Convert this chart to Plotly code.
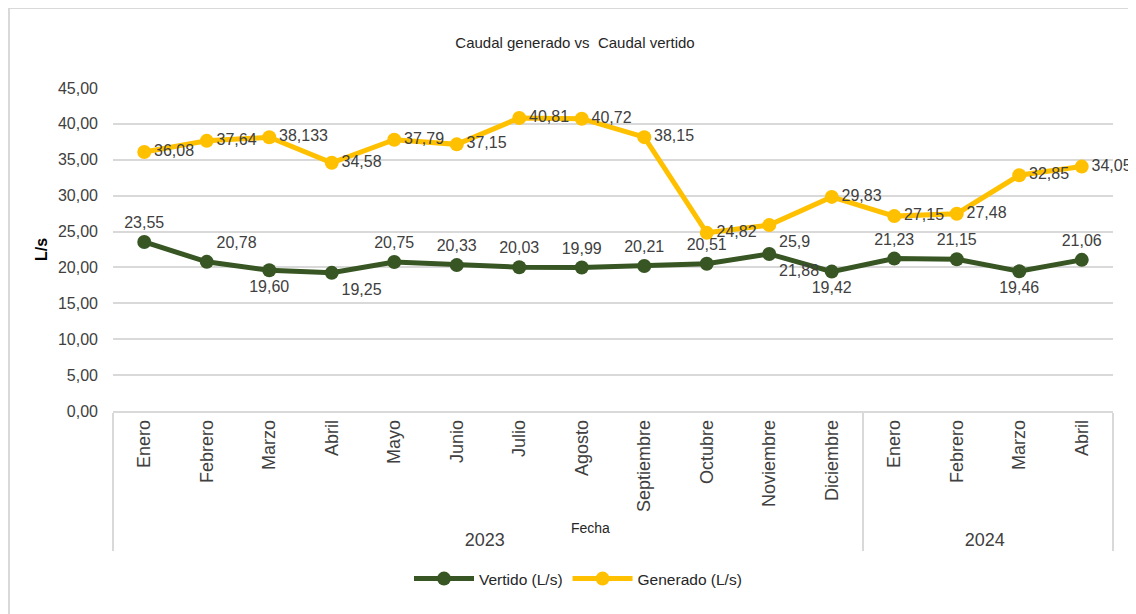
import plotly.graph_objects as go

years = ["2023"] * 12 + ["2024"] * 4
months = ["Enero", "Febrero", "Marzo", "Abril", "Mayo", "Junio", "Julio", "Agosto",
          "Septiembre", "Octubre", "Noviembre", "Diciembre",
          "Enero", "Febrero", "Marzo", "Abril"]
vertido = [23.55, 20.78, 19.60, 19.25, 20.75, 20.33, 20.03, 19.99,
           20.21, 20.51, 21.88, 19.42, 21.23, 21.15, 19.46, 21.06]
generado = [36.08, 37.64, 38.133, 34.58, 37.79, 37.15, 40.81, 40.72,
            38.15, 24.82, 25.9, 29.83, 27.15, 27.48, 32.85, 34.05]

vertido_text = [f"{v:.2f}".replace(".", ",") for v in vertido]
generado_text = [repr(v).replace(".", ",") for v in generado]

vertido_pos = ["top center", "top right", "bottom center", "bottom right", "top center",
               "top center", "top center", "top center", "top center", "top center",
               "bottom right", "bottom center", "top center", "top center",
               "bottom center", "top center"]
generado_pos = ["middle right"] * 10 + ["bottom right"] + ["middle right"] * 5

FONT = "Liberation Sans, Arial, sans-serif"
GREEN = "#375623"
YELLOW = "#FFC000"
TXT = "#404040"

# page has an 8px body margin; figure occupies page (8,8)-(1136,614)
OFF = 8
W, H = 1136 - OFF, 614 - OFF
L, R, T, B = 113, 1113, 88, 411  # plot area in page pixels
def px(xp):
    return (xp - L) / (R - L)
def py(yp):
    return (B - yp) / (B - T)

x = [years, months]

fig = go.Figure()
fig.add_trace(go.Scatter(
    x=x, y=vertido, name="Vertido (L/s)", mode="lines+markers+text",
    line=dict(color=GREEN, width=5), marker=dict(color=GREEN, size=14),
    text=vertido_text, textposition=vertido_pos,
    textfont=dict(family=FONT, size=16, color=TXT), cliponaxis=False))
fig.add_trace(go.Scatter(
    x=x, y=generado, name="Generado (L/s)", mode="lines+markers+text",
    line=dict(color=YELLOW, width=5), marker=dict(color=YELLOW, size=14),
    text=generado_text, textposition=generado_pos,
    textfont=dict(family=FONT, size=16, color=TXT), cliponaxis=False))

fig.update_layout(
    width=W, height=H,
    margin=dict(l=L - OFF, r=1136 - R, t=T - OFF, b=614 - B, autoexpand=False),
    paper_bgcolor="white", plot_bgcolor="white",
    separators=",.",
    font=dict(family=FONT, size=16, color=TXT),
    title=dict(text="Caudal generado vs  Caudal vertido", x=(575 - OFF) / W, xanchor="center",
               y=1 - (43 - OFF) / H, yanchor="middle",
               font=dict(family=FONT, size=15, color="#262626")),
    showlegend=True,
    legend=dict(orientation="h", x=px(578), xanchor="center", y=py(579), yanchor="middle",
                font=dict(family=FONT, size=15.5, color="#262626"),
                itemwidth=60, traceorder="normal"),
)
fig.update_yaxes(range=[0, 45], dtick=5, tickformat=".2f", automargin=False,
                 showgrid=True, gridcolor="#d9d9d9", gridwidth=1.5,
                 zeroline=False, showline=False, ticks="", ticklabelstandoff=14,
                 tickfont=dict(family=FONT, size=16, color=TXT),
                 title=dict(text="<b>L/s</b>", standoff=6,
                            font=dict(family=FONT, size=16, color="#000000")))
fig.update_xaxes(type="multicategory", tickangle=-90, automargin=False,
                 range=[-0.5, len(months) - 0.5], autorange=False,
                 showline=True, linecolor="#d9d9d9", linewidth=1.5,
                 showgrid=False, ticks="",
                 showdividers=True, dividercolor="#d9d9d9", dividerwidth=1.5,
                 tickfont=dict(family=FONT, size=18, color=TXT))

fig.add_annotation(text="Fecha", xref="paper", yref="paper", x=px(590), y=py(538),
                   showarrow=False, font=dict(family=FONT, size=14, color="#262626"))
fig.add_shape(type="rect", xref="paper", yref="paper",
              x0=px(9), x1=px(1150), y0=py(640), y1=py(8),
              line=dict(color="#d9d9d9", width=2), fillcolor="rgba(0,0,0,0)", layer="below")

fig.write_html("out.html")
